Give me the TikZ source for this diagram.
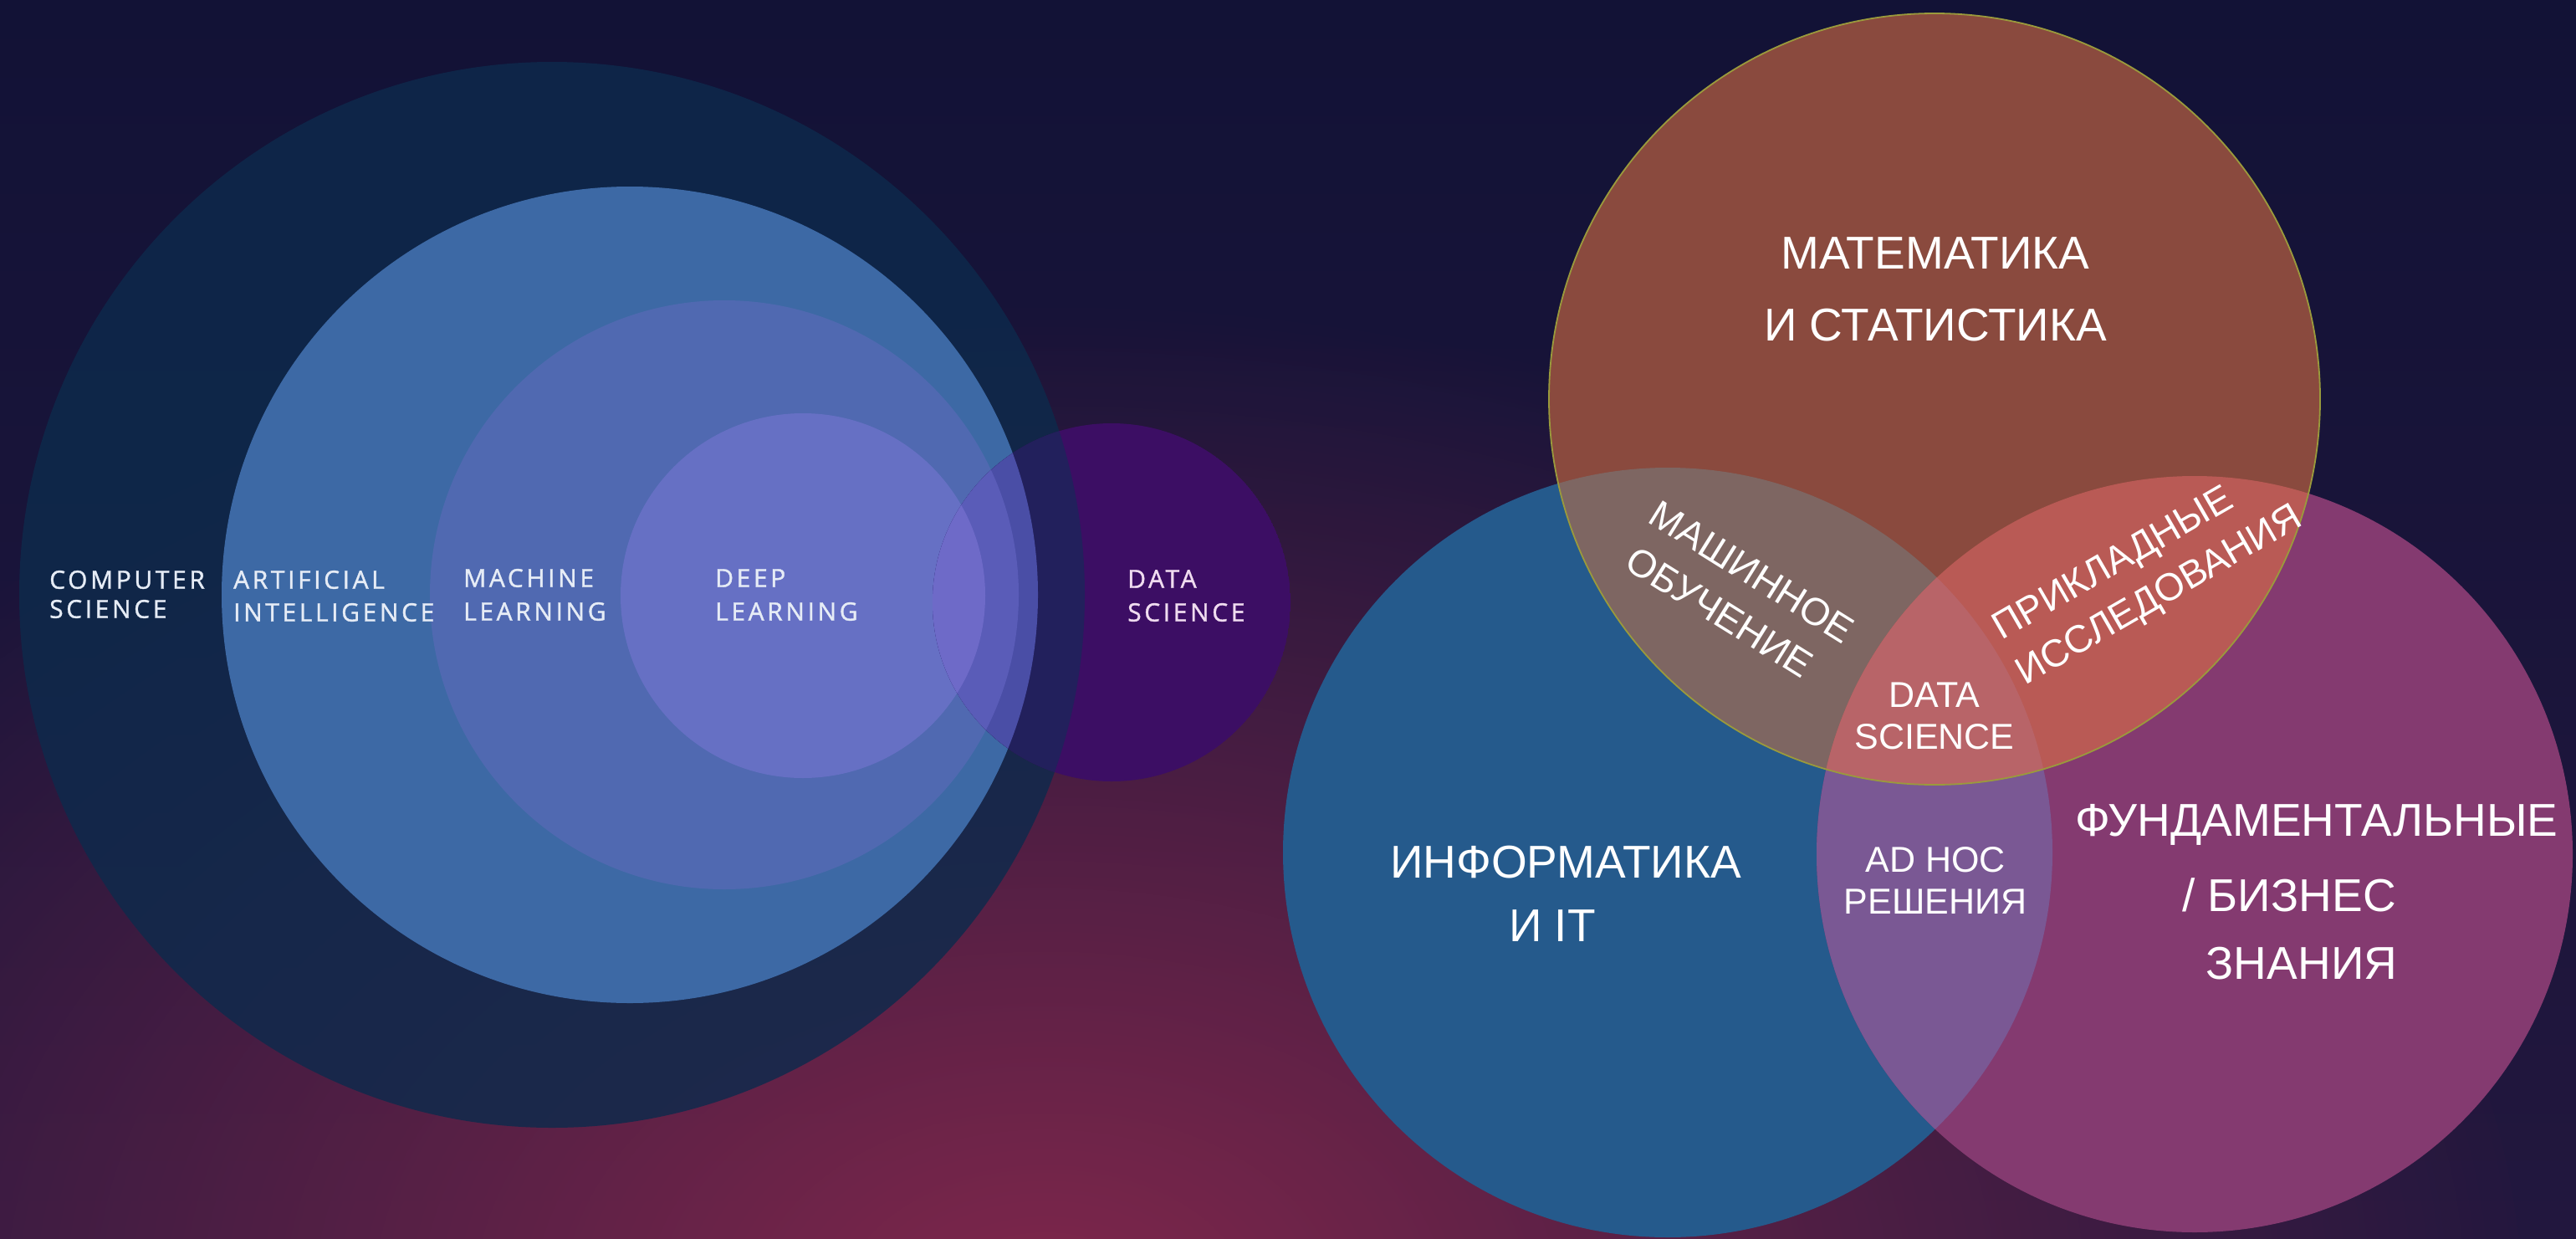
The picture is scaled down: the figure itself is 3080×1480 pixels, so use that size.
\documentclass[tikz,border=0pt]{standalone}
\usepackage{fontspec}
\setmainfont{Liberation Sans}
\newfontfamily\lblfont[LetterSpace=12,FakeBold=1.2]{Open Sans}
\usetikzlibrary{fadings}
\definecolor{bgtop}{HTML}{121236}
\definecolor{bgbot}{HTML}{22173E}
\definecolor{glowc}{HTML}{902A4E}
\definecolor{csc}{HTML}{0D2A4C}
\definecolor{aic}{HTML}{3D69A5}
\definecolor{mlc}{HTML}{5069B1}
\definecolor{dlc}{HTML}{6670C4}
\definecolor{dsc}{HTML}{3C0E64}
\definecolor{dscs}{HTML}{22205C}
\definecolor{dsai}{HTML}{4A4EA6}
\definecolor{dsml}{HTML}{5A5CB8}
\definecolor{dsdl}{HTML}{6E6AC8}
\definecolor{lbltext}{HTML}{E6ECF6}
\definecolor{lblds}{HTML}{F0DCF0}
\definecolor{mathc}{HTML}{8A4A3E}
\definecolor{infoc}{HTML}{255A8C}
\definecolor{fundc}{HTML}{843A70}
\definecolor{mic}{HTML}{7E6662}
\definecolor{mfc}{HTML}{B95A55}
\definecolor{ifc}{HTML}{7A5894}
\definecolor{mifc}{HTML}{B86468}
\definecolor{rimc}{HTML}{9A9A3C}
\tikzfading[name=glowfade, inner color=transparent!0, outer color=transparent!100]
\tikzset{
  lbl/.style={font=\lblfont\fontsize{30}{32}\selectfont, text=lbltext, inner sep=0pt,
    anchor=west, text height=21.4pt, text depth=0pt},
  bigtxt/.style={font=\fontsize{55}{60}\selectfont, text=white, inner sep=0pt,
    anchor=center, text height=39.4pt, text depth=0pt},
  midtxt/.style={font=\fontsize{43}{48}\selectfont, text=white, inner sep=0pt,
    anchor=center, text height=30.8pt, text depth=0pt},
  rottxt/.style={font=\fontsize{46}{50}\selectfont, text=white, inner sep=0pt,
    anchor=center, text height=33pt, text depth=0pt}
}
\begin{document}
\begin{tikzpicture}[x=1pt,y=-1pt]
\useasboundingbox (0,0) rectangle (3080,1480);
\clip (0,0) rectangle (3080,1480);
% background
\shade[top color=bgtop, bottom color=bgbot] (0,0) rectangle (3080,1480);
\fill[glowc, path fading=glowfade, fill opacity=0.85] (1250,1560) ellipse (1800 and 1200);

% ---- left nested circles ----
\fill[csc, fill opacity=0.82] (660,711) circle (637);
\fill[aic] (753,711) circle (488);
\fill[mlc] (866,711) circle (352);
\fill[dlc] (960,712) circle (218);
\begin{scope}
  \clip (1329,720) circle (214);
  \fill[dsc] (1329,720) circle (214);
  \fill[dscs] (660,711) circle (637);
  \fill[dsai] (753,711) circle (488);
  \fill[dsml] (866,711) circle (352);
  \fill[dsdl] (960,712) circle (218);
\end{scope}

\node[lbl] (cs1) at (59,693) {COMPUTER};
\node[lbl] (cs2) at (59,728) {SCIENCE};
\node[lbl] (ai1) at (279,693) {ARTIFICIAL};
\node[lbl] (ai2) at (279,732) {INTELLIGENCE};
\node[lbl] (ml1) at (554,691) {MACHINE};
\node[lbl] (ml2) at (554,731) {LEARNING};
\node[lbl] (dl1) at (855,691) {DEEP};
\node[lbl] (dl2) at (855,731) {LEARNING};
\node[lbl, text=lblds] (ds1) at (1348,692) {DATA};
\node[lbl, text=lblds] (ds2) at (1348,732) {SCIENCE};

% ---- right Venn ----
\fill[infoc] (1994,1019) circle (460);
\fill[fundc] (2624,1021) circle (452);
\begin{scope}
  \clip (1994,1019) circle (460);
  \fill[ifc] (2624,1021) circle (452);
\end{scope}
\fill[mathc] (2313,477) circle (461);
\begin{scope}
  \clip (2313,477) circle (461);
  \fill[mic] (1994,1019) circle (460);
  \fill[mfc] (2624,1021) circle (452);
  \clip (1994,1019) circle (460);
  \fill[mifc] (2624,1021) circle (452);
\end{scope}
\draw[rimc, line width=1.8pt] (2313,477) circle (461);

\node[bigtxt] (m1) at (2314,302) {МАТЕМАТИКА};
\node[bigtxt] (m2) at (2314,388) {И СТАТИСТИКА};
\node[bigtxt] (i1) at (1872,1030) {ИНФОРМАТИКА};
\node[bigtxt] (i2) at (1856,1106) {И IT};
\node[bigtxt] (f1) at (2770,980) {ФУНДАМЕНТАЛЬНЫЕ};
\node[bigtxt] (f2) at (2737,1070) {/ БИЗНЕС};
\node[bigtxt] (f3) at (2752,1151) {ЗНАНИЯ};
\node[midtxt] (d1) at (2313,830) {DATA};
\node[midtxt] (d2) at (2313,880) {SCIENCE};
\node[midtxt] (a1) at (2314,1027) {AD HOC};
\node[midtxt] (a2) at (2314,1077) {РЕШЕНИЯ};
\node[rottxt, rotate=-32] (ml1r) at (2095,683) {МАШИННОЕ};
\node[rottxt, rotate=-32] (ml2r) at (2056,731) {ОБУЧЕНИЕ};
\node[rottxt, rotate=30] (pr1) at (2525,671) {ПРИКЛАДНЫЕ};
\node[rottxt, rotate=30] (pr2) at (2580,709) {ИССЛЕДОВАНИЯ};
\end{tikzpicture}
\end{document}
